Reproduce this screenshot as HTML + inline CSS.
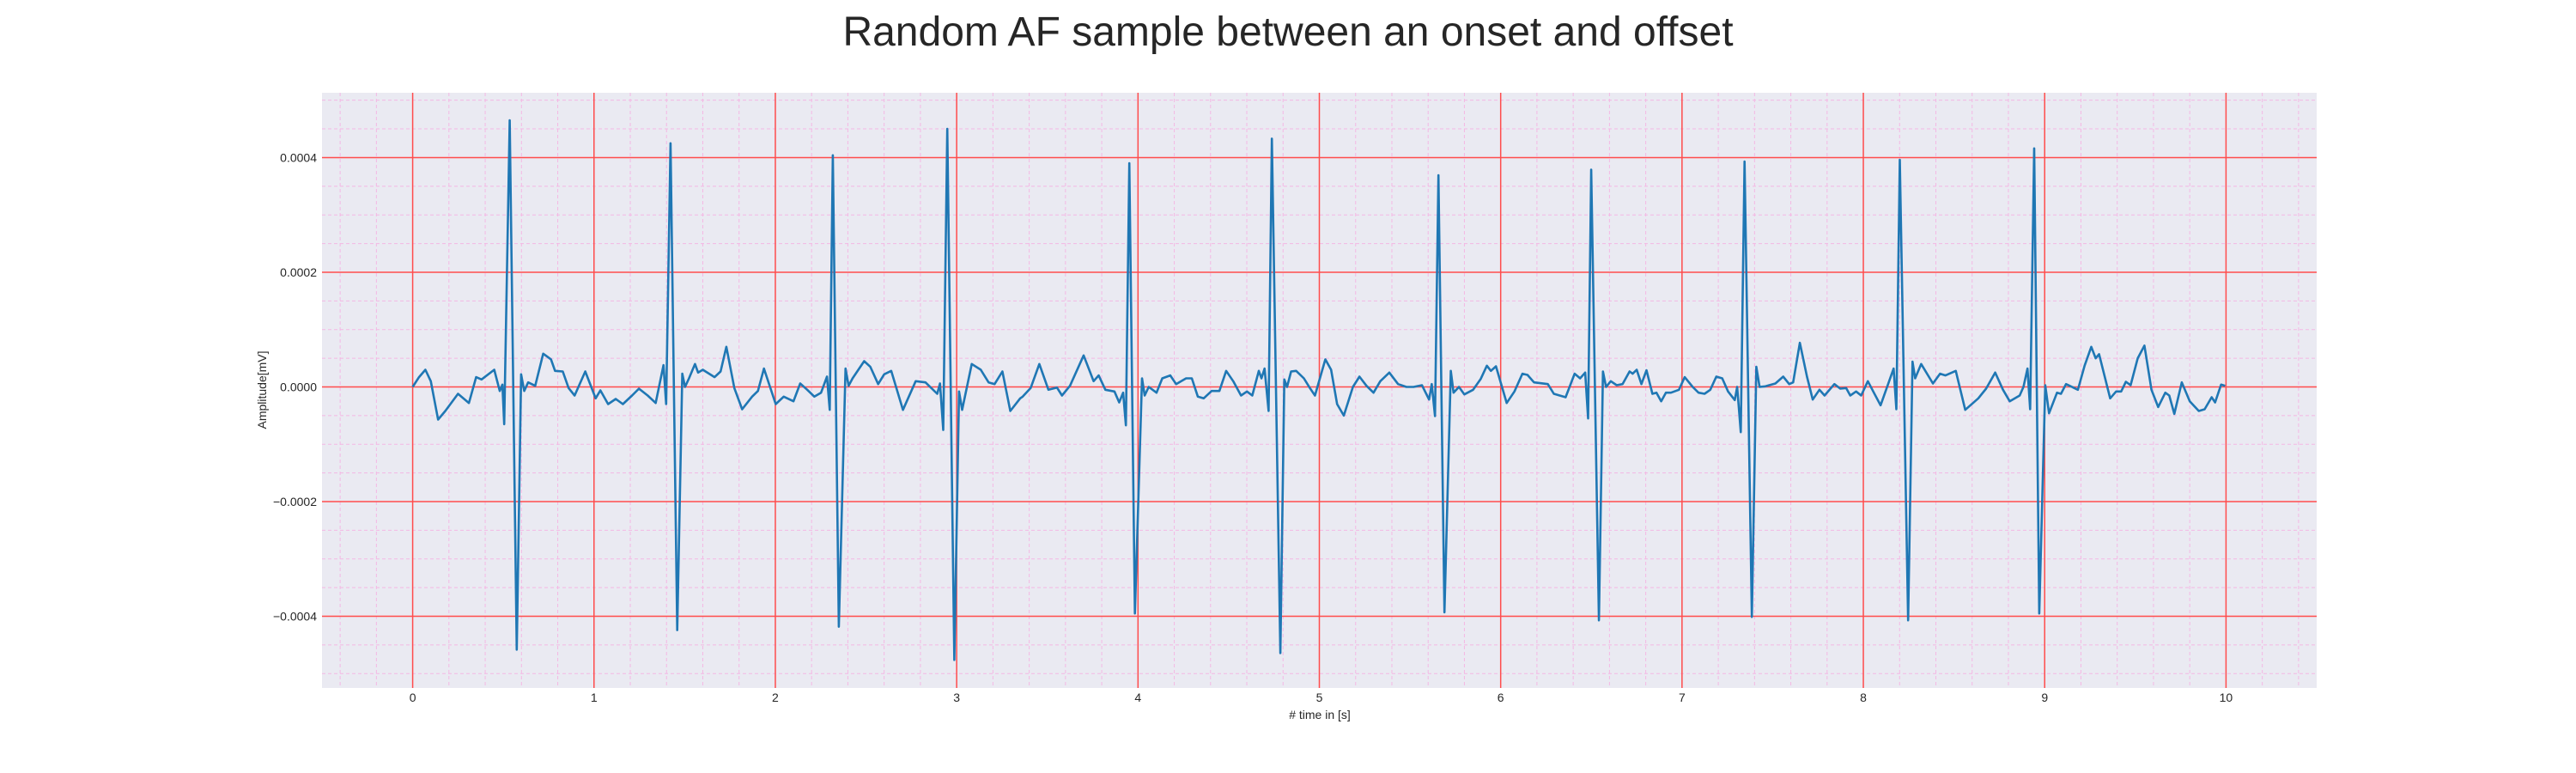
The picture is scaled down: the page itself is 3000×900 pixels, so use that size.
<!DOCTYPE html>
<html><head><meta charset="utf-8">
<style>
html,body{margin:0;padding:0;background:#fff;}
svg{display:block;font-family:"Liberation Sans",sans-serif;}
</style></head>
<body>
<svg id="chart" width="3000" height="900" viewBox="0 0 3000 900" xmlns="http://www.w3.org/2000/svg">
<text x="1500" y="53" font-size="48" text-anchor="middle" fill="#262626">Random AF sample between an onset and offset</text>
<rect x="375" y="108" width="2323" height="693" fill="#eaeaf2"/>
<g id="grid"></g>
<g id="series"></g>
<g id="ticks"></g>
<text x="1537" y="837" font-size="14" text-anchor="middle" fill="#262626"># time in [s]</text>
<text x="0" y="0" font-size="14" text-anchor="middle" fill="#262626" transform="translate(310,454) rotate(-90)">Amplitude[mV]</text>
</svg>
<script>
// x tick labels (seconds)
const xTicks = [0,1,2,3,4,5,6,7,8,9,10];
const yTicks = [0.0004,0.0002,0,-0.0002,-0.0004];
const yTickLabels = ["0.0004","0.0002","0.0000","\u22120.0002","\u22120.0004"];
// baseline samples: times (s) and values (1e-5 mV)
const baseT = [0,0.035,0.07,0.1,0.14,0.18,0.25,0.31,0.35,0.38,0.45,0.48,0.495,0.505,
0.598,0.615,0.637,0.676,0.72,0.763,0.785,0.828,0.86,0.893,0.952,1.009,1.035,1.078,1.12,1.159,1.21,1.248,1.296,1.34,1.383,1.398,
1.487,1.502,1.524,1.557,1.574,1.6,1.665,1.698,1.73,1.774,1.817,1.872,1.904,1.937,2.002,2.046,2.1,2.137,2.176,2.215,2.252,2.285,2.3,
2.387,2.404,2.426,2.49,2.524,2.567,2.6,2.639,2.704,2.774,2.828,2.893,2.908,2.926,
3.013,3.03,3.083,3.133,3.176,3.209,3.252,3.296,3.35,3.364,3.408,3.456,3.506,3.553,3.581,3.625,3.7,3.755,3.783,3.82,3.87,3.896,3.918,3.933,
4.022,4.037,4.059,4.102,4.134,4.178,4.21,4.265,4.297,4.33,4.362,4.406,4.449,4.486,4.525,4.568,4.601,4.63,4.666,4.681,4.698,4.72,
4.807,4.822,4.844,4.872,4.915,4.948,4.976,5.033,5.065,5.098,5.135,5.185,5.221,5.26,5.299,5.336,5.386,5.434,5.48,5.52,5.566,5.605,5.62,5.638,
5.725,5.74,5.77,5.8,5.848,5.89,5.924,5.946,5.974,6.033,6.076,6.12,6.148,6.184,6.26,6.293,6.358,6.408,6.438,6.466,6.482,
6.564,6.581,6.607,6.64,6.672,6.711,6.728,6.75,6.776,6.804,6.837,6.859,6.885,6.911,6.939,6.983,7.015,7.059,7.091,7.124,7.156,7.189,7.222,7.254,7.291,7.304,7.324,
7.41,7.428,7.46,7.515,7.558,7.591,7.613,7.65,7.689,7.721,7.758,7.786,7.84,7.873,7.905,7.928,7.96,7.988,8.025,8.058,8.095,8.14,8.167,8.182,
8.271,8.286,8.319,8.384,8.423,8.453,8.51,8.562,8.634,8.677,8.727,8.77,8.807,8.862,8.883,8.905,8.92,
9.003,9.024,9.068,9.09,9.118,9.183,9.22,9.257,9.281,9.3,9.361,9.394,9.422,9.448,9.474,9.513,9.55,9.589,9.626,9.665,9.687,9.715,9.756,9.8,9.85,9.882,9.921,9.94,9.973,9.995];
const baseV = [0,1.7,3.0,1,-5.7,-4.2,-1.2,-2.8,1.7,1.3,3.0,-0.7,0.4,-6.5,
2.2,-0.7,0.8,0.2,5.8,4.8,2.8,2.7,-0.2,-1.5,2.7,-2.0,-0.6,-3.0,-2.1,-3.0,-1.5,-0.3,-1.5,-2.8,3.8,-3.0,
2.3,0,1.5,4,2.5,3,1.7,2.7,7,-0.2,-3.9,-1.7,-0.7,3.2,-3.0,-1.7,-2.5,0.6,-0.5,-1.7,-1,1.8,-4,
3.2,0.2,1.5,4.5,3.5,0.5,2.2,2.8,-4,1,0.8,-1.2,0.6,-7.5,
-0.8,-4,4,3,0.8,0.5,2.7,-4.2,-2,-1.7,-0.2,4,-0.5,-0.1,-1.5,0.2,5.5,1,2,-0.5,-0.8,-2.7,-1,-6.7,
1.5,-1.5,0,-1,1.5,2,0.5,1.5,1.5,-1.7,-2,-0.7,-0.7,2.8,1,-1.5,-0.8,-1.5,2.8,1.5,3.2,-4.2,
1.3,0,2.7,2.8,1.5,-0.2,-1.5,4.8,3,-3,-5,0,1.8,0.2,-1,1,2.5,0.5,0,0,0.3,-2.2,0.5,-5.1,
2.8,-1,0,-1.3,-0.5,1.4,3.7,2.8,3.6,-2.8,-0.8,2.3,2.1,0.8,0.5,-1.2,-1.8,2.3,1.5,2.5,-5.5,
2.7,0,1,0.3,0.5,2.7,2.3,3,0.5,2.9,-1.2,-1,-2.5,-1,-1,-0.5,1.7,0,-1,-1.2,-0.5,1.8,1.5,-0.8,-2.3,0,-7.9,
3.5,0,0.1,0.6,1.8,0.5,0.8,7.7,1.8,-2.2,-0.5,-1.5,0.5,-0.3,-0.2,-1.5,-0.8,-1.5,1,-1,-3.2,0.8,3.2,-3.9,
4.4,1.5,4,0.6,2.3,2,2.8,-4,-2,-0.3,2.5,-0.5,-2.5,-1.5,0,3.2,-3.9,
0.3,-4.6,-1,-1.2,0.5,-0.5,3.7,7,5,5.7,-2,-0.8,-0.8,0.9,0.3,5,7.2,-0.5,-3.5,-1,-1.5,-4.7,0.8,-2.5,-4.2,-3.9,-1.8,-2.7,0.4,0.2];
// QRS complexes: R-peak time (s), R amplitude, S trough time, S amplitude (1e-5 mV)
const beatT = [0.535,1.422,2.317,2.948,3.952,4.738,5.657,6.499,7.345,8.201,8.942];
const beatPeak = [46.5,42.5,40.4,45.0,39.0,43.3,36.9,37.9,39.3,39.6,41.6];
const troughT = [0.574,1.459,2.35,2.987,3.983,4.785,5.69,6.542,7.385,8.247,8.97];
const beatTrough = [-45.8,-42.4,-41.8,-47.6,-39.5,-46.4,-39.3,-40.7,-40.1,-40.7,-39.5];

const NS="http://www.w3.org/2000/svg";
const L=375,R=2698,T=108,B=801;
const X=t=>L+(t+0.5)/11*(R-L);
const yTop=0.000513,yBot=-0.000525;
const Y=v=>T+(yTop-v)/(yTop-yBot)*(B-T);
function mk(tag,attrs,parent){const e=document.createElementNS(NS,tag);for(const k in attrs)e.setAttribute(k,attrs[k]);parent.appendChild(e);return e;}
const grid=document.getElementById('grid');
for(let i=-2;i<=52;i++){const t=i*0.2;if(Math.abs(t-Math.round(t))<1e-6)continue;
 const ln=mk('line',{x1:X(t),x2:X(t),y1:T,y2:B,stroke:'#f4b8e4','stroke-width':1,'stroke-dasharray':'4,3'},grid);
 
 }
for(let i=-10;i<=10;i++){const v=i*0.00005;if(i%4===0)continue;
 const ln=mk('line',{x1:L,x2:R,y1:Y(v),y2:Y(v),stroke:'#f4b8e4','stroke-width':1,'stroke-dasharray':'4,3'},grid);
 
 }
const ticks=document.getElementById('ticks');
xTicks.forEach(t=>{
 const ln=mk('line',{x1:X(t),x2:X(t),y1:T,y2:B,stroke:'#ff4c4c','stroke-width':1.5},grid);
 
 
 const tx=mk('text',{x:X(t),y:817,'font-size':14,'text-anchor':'middle',fill:'#262626'},ticks);
 tx.textContent=String(t);
 
 });
yTicks.forEach((v,i)=>{
 const ln=mk('line',{x1:L,x2:R,y1:Y(v),y2:Y(v),stroke:'#ff4c4c','stroke-width':1.5},grid);
 
 
 const tx=mk('text',{x:369,y:Y(v)+5,'font-size':14,'text-anchor':'end',fill:'#262626'},ticks);
 tx.textContent=yTickLabels[i];
 
 });
const pts=[];
baseT.forEach((t,i)=>pts.push([t,baseV[i]]));
beatT.forEach((t,i)=>{pts.push([t,beatPeak[i]]);pts.push([troughT[i],beatTrough[i]]);});
pts.sort((a,b)=>a[0]-b[0]);
const d=pts.map((p,i)=>(i?'L':'M')+X(p[0]).toFixed(1)+','+Y(p[1]*1e-5).toFixed(1)).join('');
const path=mk('path',{d:d,fill:'none',stroke:'#1f77b4','stroke-width':2.6,'stroke-linejoin':'round'},document.getElementById('series'));


</script>
</body></html>
